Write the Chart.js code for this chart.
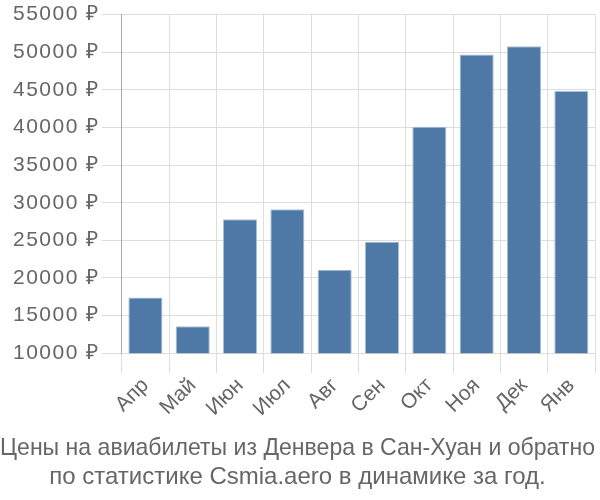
<!DOCTYPE html>
<html>
<head>
<meta charset="utf-8">
<script src="https://cdn.jsdelivr.net/npm/chart.js@4"></script>
<style>
  body { margin: 0; background: #fff; }
  #wrap { width: 600px; height: 500px; }
</style>
</head>
<body>
<div id="wrap"><canvas id="priceChart"></canvas></div>
<script>
const months = ["Апр", "Май", "Июн", "Июл", "Авг", "Сен", "Окт", "Ноя", "Дек", "Янв"];
const prices = [17400, 13600, 27800, 29150, 21100, 24800, 40100, 49700, 50800, 44850];
const yMin = 10000;
const yMax = 55000;
const yStep = 5000;
const titleLines = [
  "Цены на авиабилеты из Денвера в Сан-Хуан и обратно",
  "по статистике Csmia.aero в динамике за год."
];

Chart.defaults.font.family = "'Liberation Sans', Arial, sans-serif";
Chart.defaults.color = "#666";

const narrow = "'Liberation Sans Narrow', 'Liberation Sans', sans-serif";
const ySpacing = "1.5px";

// y tick labels in the original are a bit wider spaced than plain Arial
const spacedYTicks = {
  id: "spacedYTicks",
  beforeLayout(chart) {
    chart.ctx.letterSpacing = ySpacing;
  },
  afterLayout(chart) {
    chart.ctx.letterSpacing = "0px";
    const y = chart.scales.y;
    if (y && !y._spacedPatch) {
      const orig = y.drawLabels;
      y.drawLabels = function (area) {
        this.ctx.save();
        this.ctx.letterSpacing = ySpacing;
        orig.call(this, area);
        this.ctx.restore();
      };
      y._spacedPatch = true;
    }
  }
};

new Chart(document.getElementById("priceChart"), {
  type: "bar",
  data: {
    labels: months,
    datasets: [{
      data: prices,
      backgroundColor: "#4e79a7",
      borderColor: "#a9bfd6",
      borderWidth: 1
    }]
  },
  options: {
    responsive: true,
    maintainAspectRatio: false,
    animation: false,
    layout: { padding: { top: 4, right: 5, left: 0, bottom: 0 } },
    plugins: {
      legend: { display: false },
      tooltip: { enabled: false },
      title: {
        display: true,
        position: "bottom",
        text: titleLines,
        color: "#666",
        font: { family: narrow, size: 24, weight: "normal" },
        lineHeight: 1.12,
        padding: { top: 10, bottom: 8 }
      }
    },
    scales: {
      x: {
        grid: { color: "#ddd", tickLength: 20, lineWidth: 1 },
        border: { color: "#ddd" },
        ticks: {
          font: { family: narrow, size: 21 },
          maxRotation: 45,
          minRotation: 45,
          padding: 0
        }
      },
      y: {
        min: yMin,
        max: yMax,
        grid: { color: "#ddd", tickLength: 20 },
        border: { color: "#aaa" },
        afterFit: scale => { scale.width += 11; },
        ticks: {
          stepSize: yStep,
          font: { size: 21 },
          padding: 2,
          callback: v => v + " ₽"
        }
      }
    }
  },
  plugins: [spacedYTicks]
});
</script>
</body>
</html>
